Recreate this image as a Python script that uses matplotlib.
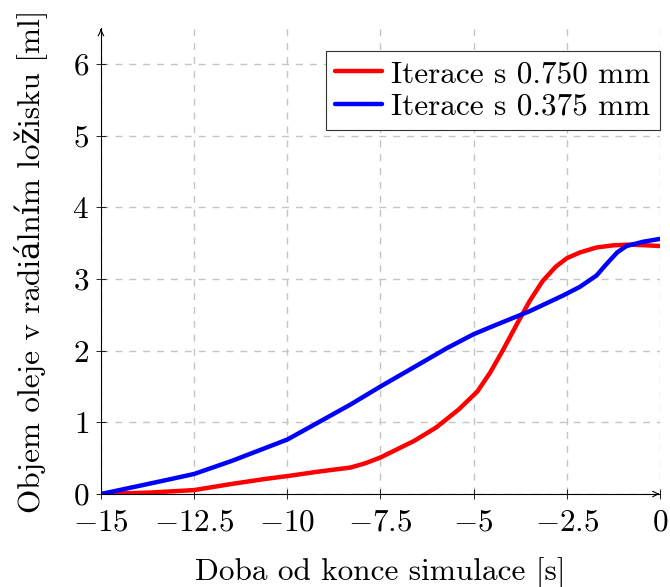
import matplotlib.pyplot as plt

# font setup: Computer Modern look, DejaVu Serif for accented letters
plt.rcParams['font.family'] = ['cmr10', 'DejaVu Serif']
plt.rcParams['mathtext.fontset'] = 'cm'
plt.rcParams['axes.formatter.use_mathtext'] = True
plt.rcParams['axes.unicode_minus'] = True

# Iterace s 0.750 mm
t_red = [-15, -13.7, -12.5, -11.5, -10.6, -10, -9.2, -8.3, -7.9, -7.5, -6.6, -6.0,
         -5.4, -4.9, -4.55, -4.2, -3.85, -3.5, -3.15, -2.8, -2.5, -2.15, -1.7, -1.25,
         -0.8, -0.35, 0]
v_red = [0, 0.02, 0.055, 0.14, 0.21, 0.25, 0.31, 0.37, 0.43, 0.51, 0.74, 0.93,
         1.18, 1.43, 1.70, 2.02, 2.36, 2.69, 2.97, 3.17, 3.29, 3.37, 3.44, 3.47,
         3.48, 3.47, 3.46]

# Iterace s 0.375 mm
t_blue = [-15, -14.1, -13.2, -12.5, -11.5, -10.6, -10, -9.2, -8.3, -7.5, -6.6, -5.7,
          -5.0, -4.4, -3.5, -2.6, -2.15, -1.7, -1.45, -1.15, -0.9, -0.45, 0]
v_blue = [0, 0.10, 0.20, 0.28, 0.46, 0.64, 0.76, 0.99, 1.25, 1.50, 1.77, 2.04,
          2.23, 2.36, 2.55, 2.77, 2.89, 3.05, 3.20, 3.37, 3.46, 3.52, 3.56]

xticks = [-15, -12.5, -10, -7.5, -5, -2.5, 0]
yticks = [0, 1, 2, 3, 4, 5, 6]

fig = plt.figure(figsize=(6.7, 5.87), dpi=100)
ax = fig.add_axes([0.1507, 0.1584, 0.8343, 0.7936])

ax.plot(t_red, v_red, color='#ff0000', lw=3.2, label='Iterace s 0.750 mm',
        solid_capstyle='round', solid_joinstyle='round')
ax.plot(t_blue, v_blue, color='#0000ff', lw=3.2, label='Iterace s 0.375 mm',
        solid_capstyle='round', solid_joinstyle='round')

ax.set_xlim(-15, 0)
ax.set_ylim(0, 6.5)
ax.set_xticks(xticks)
ax.set_yticks(yticks)
ax.set_xticklabels(['$-15$', '$-12.5$', '$-10$', '$-7.5$', '$-5$', '$-2.5$', '$0$'])
ax.set_yticklabels(['$%d$' % v for v in yticks])
ax.tick_params(labelsize=22.5, direction='inout', length=7, width=0.6)
ax.tick_params(axis='x', pad=7)
ax.tick_params(axis='y', pad=5)

ax.grid(True, color='#c4c4c4', linestyle=(0, (5, 5)), lw=1)
ax.set_axisbelow(True)

for s in ['top', 'right']:
    ax.spines[s].set_visible(False)
for s in ['left', 'bottom']:
    ax.spines[s].set_linewidth(0.8)

# axis arrows
ax.annotate('', xy=(1.004, 0), xytext=(0.99, 0), xycoords='axes fraction',
            arrowprops=dict(arrowstyle='->', color='black', lw=0.8))
ax.annotate('', xy=(0, 1.004), xytext=(0, 0.99), xycoords='axes fraction',
            arrowprops=dict(arrowstyle='->', color='black', lw=0.8))

ax.set_xlabel('Doba od konce simulace [s]', fontsize=22.5, labelpad=15)
ax.set_ylabel('Objem oleje v radiálním ložisku [ml]', fontsize=22.5)
ax.yaxis.set_label_coords(-0.097, 0.5)

leg = ax.legend(loc='upper right', bbox_to_anchor=(1.0, 0.951), fontsize=22.5,
                fancybox=False, framealpha=1, edgecolor='#333333',
                handlelength=1.5, handletextpad=0.3, borderpad=0.3,
                labelspacing=0.15, borderaxespad=0)
leg.get_frame().set_linewidth(0.8)

fig.savefig('out.png', dpi=100)
